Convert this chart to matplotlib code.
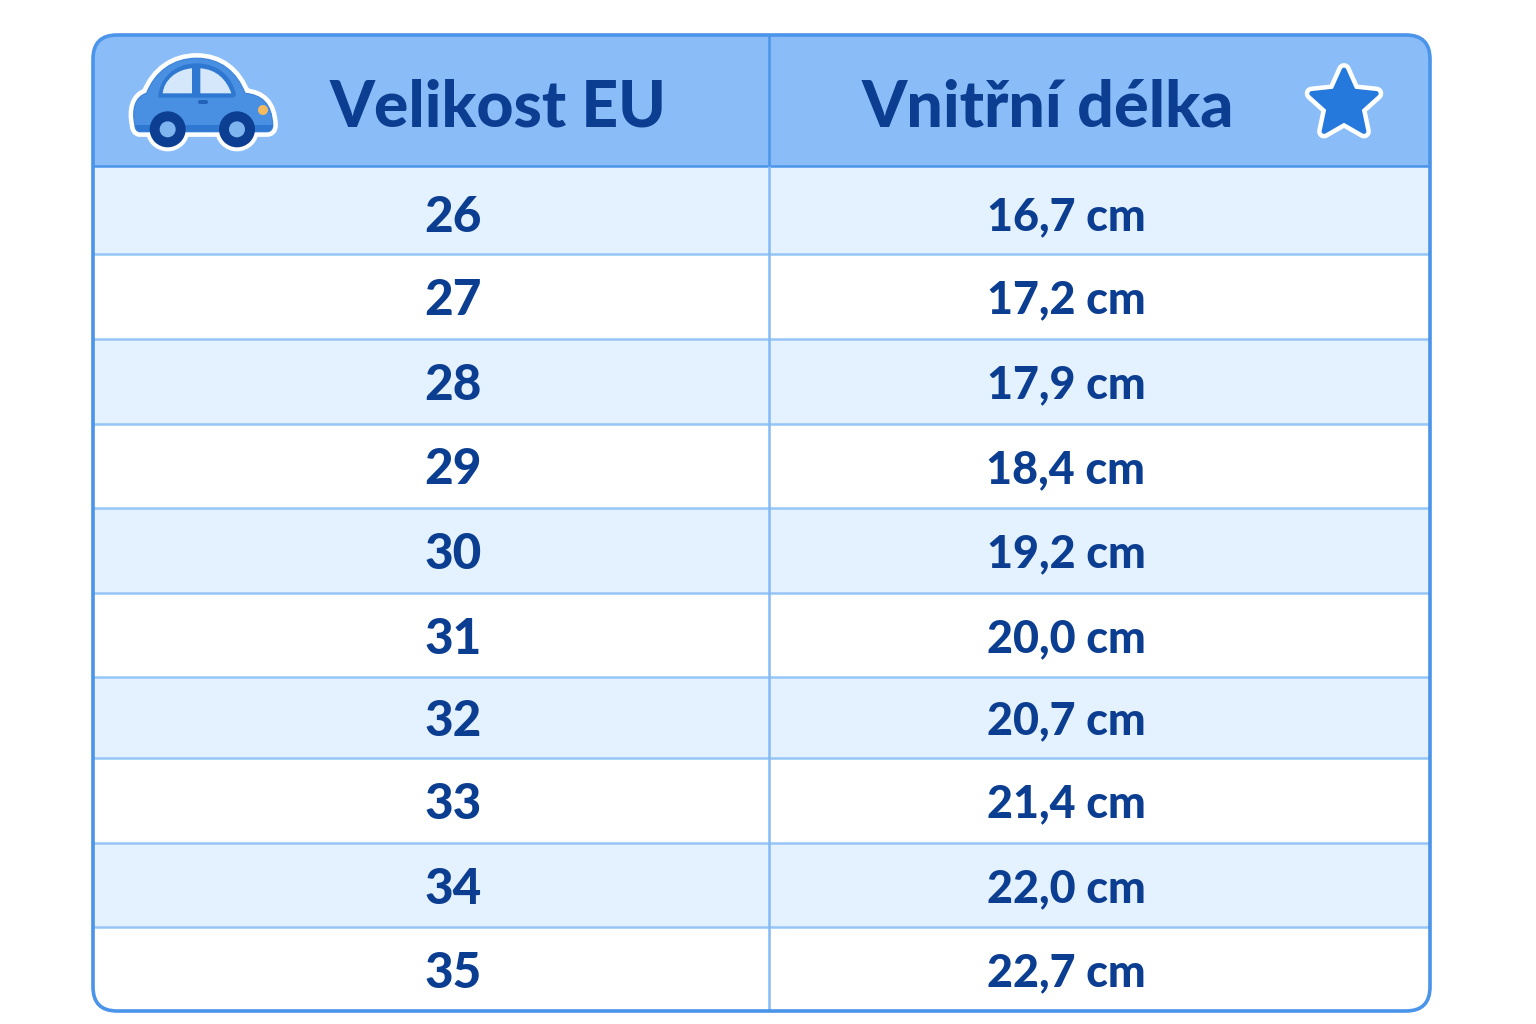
import matplotlib
matplotlib.use("Agg")
import matplotlib.pyplot as plt
from matplotlib.patches import FancyBboxPatch, Rectangle, Circle, Polygon, PathPatch
from matplotlib.path import Path
import numpy as np

# table content
sizes = ["26", "27", "28", "29", "30", "31", "32", "33", "34", "35"]
lengths = ["16,7 cm", "17,2 cm", "17,9 cm", "18,4 cm", "19,2 cm",
           "20,0 cm", "20,7 cm", "21,4 cm", "22,0 cm", "22,7 cm"]
headers = ["Velikost EU", "Vnitřní délka"]

# row borders in pixels
row_y = [166, 254, 339, 424, 508, 593, 677, 758, 843, 927, 1011]

BORDER = "#4a94ea"
HEAD = "#8abdf8"
STRIPE = "#e4f1fe"
TEXT = "#0b3d91"

L, R, T, B = 93, 1430, 35, 1011
MID = 769

fig = plt.figure(figsize=(15.36, 10.24), dpi=100)
ax = fig.add_axes([0, 0, 1, 1])
ax.set_xlim(0, 1536)
ax.set_ylim(1024, 0)
ax.axis("off")

clip = FancyBboxPatch((L, T), R - L, B - T, boxstyle="round,pad=0,rounding_size=24",
                      fc="white", ec="none", zorder=1)
ax.add_patch(clip)

head = Rectangle((L, T), R - L, row_y[0] - T, fc=HEAD, ec="none", zorder=2)
ax.add_patch(head)
head.set_clip_path(clip)

for i in range(len(sizes)):
    if i % 2 == 0:
        r = Rectangle((L, row_y[i]), R - L, row_y[i + 1] - row_y[i], fc=STRIPE, ec="none", zorder=2)
        ax.add_patch(r)
        r.set_clip_path(clip)
    ax.plot([L, R], [row_y[i], row_y[i]], color=BORDER if i == 0 else "#96c5f7",
            lw=1.8, zorder=3, solid_capstyle="butt")

ax.plot([MID, MID], [T, row_y[0]], color=BORDER, lw=1.8, zorder=3, solid_capstyle="butt")
ax.plot([MID, MID], [row_y[0], B], color="#84baf5", lw=1.8, zorder=3, solid_capstyle="butt")

ax.add_patch(FancyBboxPatch((L, T), R - L, B - T, boxstyle="round,pad=0,rounding_size=24",
                            fc="none", ec=BORDER, lw=2.6, zorder=4))

font = ["Lato", "DejaVu Sans"]
ax.text(498, 108, headers[0], fontsize=46.2, fontweight=900, color=TEXT,
        ha="center", va="center", family=font)
ax.text(1048, 108, headers[1], fontsize=46.5, fontweight=900, color=TEXT,
        ha="center", va="center", family=font)

for i in range(len(sizes)):
    yc = (row_y[i] + row_y[i + 1]) / 2 + 4
    if i == 0:  # first row is taller, its text sits lower
        yc += 3
    ax.text(453, yc, sizes[i], fontsize=35.6, fontweight=900, color=TEXT,
            ha="center", va="center", family=font)
    ax.text(1066, yc, lengths[i], fontsize=32.3, fontweight=900, color=TEXT,
            ha="center", va="center", family=font)


# car icon, shapes given in 3x crop coordinates
def px(p):
    return [(x / 3 + 90, y / 3 + 30) for x, y in p]


def curved(points, **kw):
    verts = px(points)
    codes = [Path.MOVETO] + [Path.CURVE4] * (len(verts) - 2) + [Path.CLOSEPOLY]
    patch = PathPatch(Path(verts, codes), **kw)
    ax.add_patch(patch)
    return patch


body = [(135, 285), (125, 240), (135, 200), (170, 190),
        (195, 125), (250, 85), (320, 85),
        (390, 85), (440, 125), (465, 190),
        (515, 195), (545, 220), (548, 285),
        (548, 300), (540, 305), (530, 305),
        (400, 305), (270, 305), (150, 305),
        (140, 305), (135, 295), (135, 285), (135, 285)]
curved(body, fc="white", ec="white", lw=7.5, joinstyle="round", zorder=5)
for cx in (233, 441):
    x, y = px([(cx, 298)])[0]
    ax.add_patch(Circle((x, y), 22, fc="white", ec="none", zorder=5))
b = curved(body, fc="#4a90e2", ec="#3f86dc", lw=1, zorder=6)
band = Rectangle((130, 125), 146, 9, fc="#2f78d2", ec="none", zorder=7)
ax.add_patch(band)
band.set_clip_path(b)

# window frame and panes
frame = [(205, 203), (205, 150), (250, 100), (320, 100),
         (385, 100), (425, 140), (437, 190),
         (440, 197), (435, 203), (425, 203),
         (350, 203), (280, 203), (215, 203),
         (208, 203), (205, 203), (205, 203), (205, 203)]
curved(frame, fc="#2f78d2", ec="none", zorder=7)
curved([(218, 190), (222, 150), (260, 118), (306, 115),
        (306, 140), (306, 165), (306, 190),
        (275, 190), (245, 190), (218, 190), (218, 190)],
       fc="#d5e8fb", ec="none", zorder=8)
curved([(331, 115), (380, 118), (410, 150), (424, 190),
        (395, 190), (360, 190), (331, 190),
        (331, 165), (331, 140), (331, 115), (331, 115)],
       fc="#d5e8fb", ec="none", zorder=8)
ax.add_patch(FancyBboxPatch((198, 100), 10, 4, boxstyle="round,pad=0,rounding_size=2",
                            fc="#2563b8", ec="none", zorder=8))
ax.add_patch(Circle((263, 110), 5, fc="#f6bb5e", ec="none", zorder=8))
for cx in (233, 441):
    x, y = px([(cx, 298)])[0]
    ax.add_patch(Circle((x, y), 18, fc="#0c3f92", ec="none", zorder=9))
    ax.add_patch(Circle((x, y), 8, fc="#7fb5ee", ec="none", zorder=10))

# star icon
ang = np.deg2rad(np.arange(0, 360, 36) - 90)
rad = np.array([34, 16] * 5)
pts = np.c_[1344 + rad * np.cos(ang), 104 + rad * np.sin(ang)]
ax.add_patch(Polygon(pts, closed=True, fc="white", ec="white", lw=10, joinstyle="round", zorder=5))
ax.add_patch(Polygon(pts, closed=True, fc="#2679dc", ec="#2679dc", lw=3.5, joinstyle="round", zorder=6))

fig.savefig("out.png", dpi=100, facecolor="white")
